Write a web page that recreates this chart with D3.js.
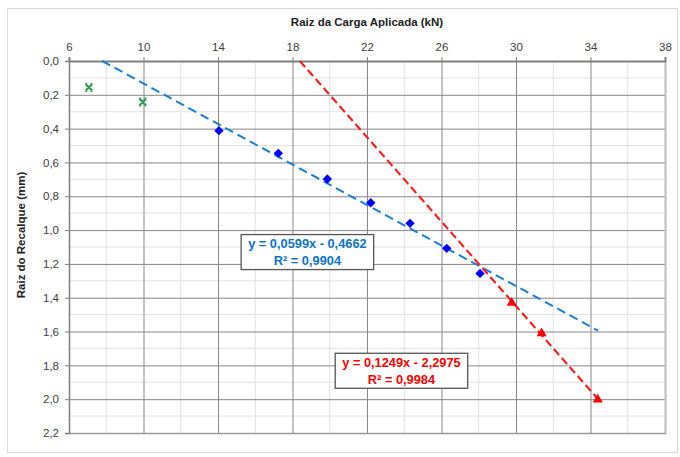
<!DOCTYPE html>
<html>
<head>
<meta charset="utf-8">
<script src="https://cdn.jsdelivr.net/npm/d3@7.9.0/dist/d3.min.js"></script>
<style>
  body { margin: 0; background: #fff; }
  svg { display: block; font-family: "Liberation Sans", Arial, sans-serif; }
</style>
</head>
<body>
<div id="chart"></div>
<script>
// Data
const xTicks = [6, 10, 14, 18, 22, 26, 30, 34, 38];
const yTicks = [0, 0.2, 0.4, 0.6, 0.8, 1.0, 1.2, 1.4, 1.6, 1.8, 2.0, 2.2];

const greenX = [7.07, 9.96];
const greenY = [0.156, 0.243];

const blueX = [14.05, 17.24, 19.87, 22.2, 24.31, 26.28, 28.07];
const blueY = [0.412, 0.546, 0.698, 0.838, 0.960, 1.108, 1.256];

const redX = [29.77, 31.38, 34.39];
const redY = [1.430, 1.611, 2.002];

// Trendlines: slope, intercept, last x, label lines, label centre (data units)
const trends = [
  { slope: 0.0599, intercept: -0.4662, xEnd: 34.4, color: '#1a7fd4', text: '#0b74c8',
    lines: ['y = 0,0599x - 0,4662', 'R² = 0,9904'], at: [18.8, 1.13], dash: '9,5' },
  { slope: 0.1249, intercept: -2.2975, xEnd: 34.4, color: '#ff1a1a', text: '#ff0000',
    lines: ['y = 0,1249x - 2,2975', 'R² = 0,9984'], at: [23.85, 1.832], dash: '8,4' }
];

const width = 680;
const height = 457;
const plot = { left: 69, right: 665, top: 61, bottom: 433 };

const svg = d3.select('#chart')
  .append('svg')
  .attr('width', width)
  .attr('height', height);

// chart area border
svg.append('rect')
  .attr('x', 7.5).attr('y', 8.5)
  .attr('width', 670).attr('height', 444)
  .attr('fill', 'none')
  .attr('stroke', '#d9d9d9');

const x = d3.scaleLinear().domain([6, 38]).range([plot.left, plot.right]);
const y = d3.scaleLinear().domain([0, 2.2]).range([plot.top, plot.bottom]);

// minor gridlines
const minorX = d3.range(8, 38, 4);
const minorY = d3.range(0.1, 2.2, 0.2);
svg.append('g')
  .selectAll('line')
  .data(minorX)
  .join('line')
  .attr('x1', d => x(d)).attr('x2', d => x(d))
  .attr('y1', plot.top).attr('y2', plot.bottom)
  .attr('stroke', '#e2e2e2');
svg.append('g')
  .selectAll('line')
  .data(minorY)
  .join('line')
  .attr('y1', d => y(d)).attr('y2', d => y(d))
  .attr('x1', plot.left).attr('x2', plot.right)
  .attr('stroke', '#e2e2e2');

// major gridlines
svg.append('g')
  .attr('transform', `translate(0,${plot.bottom})`)
  .call(d3.axisTop(x).tickValues(xTicks.slice(1, -1)).tickFormat('').tickSize(plot.bottom - plot.top))
  .call(g => g.select('.domain').remove())
  .call(g => g.selectAll('.tick line').attr('stroke', '#878787'));
svg.append('g')
  .attr('transform', `translate(${plot.right},0)`)
  .call(d3.axisLeft(y).tickValues(yTicks.slice(1, -1)).tickFormat('').tickSize(plot.right - plot.left))
  .call(g => g.select('.domain').remove())
  .call(g => g.selectAll('.tick line').attr('stroke', '#878787'));

// right and bottom edges
svg.append('line')
  .attr('x1', plot.right + 0.5).attr('x2', plot.right + 0.5)
  .attr('y1', plot.top).attr('y2', plot.bottom + 1)
  .attr('stroke', '#bdbdbd').attr('stroke-width', 2);
svg.append('line')
  .attr('x1', plot.left).attr('x2', plot.right + 1)
  .attr('y1', plot.bottom + 0.5).attr('y2', plot.bottom + 0.5)
  .attr('stroke', '#9a9a9a').attr('stroke-width', 1.5);

// axes
const fmt = d => d3.format('.1f')(d).replace('.', ',');
svg.append('g')
  .attr('transform', `translate(0,${plot.top})`)
  .call(d3.axisTop(x).tickValues(xTicks).tickSize(4).tickPadding(6))
  .call(g => g.select('.domain').attr('stroke', '#7f7f7f').attr('stroke-width', 2))
  .call(g => g.selectAll('.tick line').attr('stroke', '#7f7f7f'))
  .call(g => g.selectAll('.tick text').attr('fill', '#404040').attr('font-size', 11.5)
    .attr('font-family', '"Liberation Sans", Arial, sans-serif'));
svg.append('g')
  .attr('transform', `translate(${plot.left},0)`)
  .call(d3.axisLeft(y).tickValues(yTicks).tickFormat(fmt).tickSize(4).tickPadding(6))
  .call(g => g.select('.domain').attr('stroke', '#7f7f7f').attr('stroke-width', 1.5))
  .call(g => g.selectAll('.tick line').attr('stroke', '#7f7f7f'))
  .call(g => g.selectAll('.tick text').attr('fill', '#404040').attr('font-size', 11.5)
    .attr('font-family', '"Liberation Sans", Arial, sans-serif'));

// axis titles
svg.append('text')
  .attr('x', (plot.left + plot.right) / 2)
  .attr('y', 26)
  .attr('text-anchor', 'middle')
  .attr('font-size', 11.5)
  .attr('font-weight', 'bold')
  .attr('fill', '#222')
  .text('Raiz da Carga Aplicada (kN)');
svg.append('text')
  .attr('transform', `translate(25,${(plot.top + plot.bottom) / 2 - 12}) rotate(-90)`)
  .attr('text-anchor', 'middle')
  .attr('font-size', 11.5)
  .attr('font-weight', 'bold')
  .attr('fill', '#222')
  .text('Raiz do Recalque (mm)');

// trendlines
const line = d3.line().x(d => x(d[0])).y(d => y(d[1]));
trends.forEach(t => {
  const x0 = -t.intercept / t.slope;
  const pts = [[x0, 0], [t.xEnd, t.slope * t.xEnd + t.intercept]];
  svg.append('path')
    .attr('d', line(pts))
    .attr('fill', 'none')
    .attr('stroke', t.color)
    .attr('stroke-width', 2)
    .attr('stroke-dasharray', t.dash);
});

// markers
svg.append('g')
  .selectAll('path')
  .data(greenX.map((d, i) => [d, greenY[i]]))
  .join('path')
  .attr('transform', d => `translate(${x(d[0])},${y(d[1])})`)
  .attr('d', 'M-3.2,-3.2L3.2,3.2M3.2,-3.2L-3.2,3.2M-3.6,-3.4H-1.6M1.6,-3.4H3.6M-3.6,3.4H-1.6M1.6,3.4H3.6')
  .attr('fill', 'none')
  .attr('stroke', '#2f9a55')
  .attr('stroke-width', 2.2);

svg.append('g')
  .selectAll('path')
  .data(blueX.map((d, i) => [d, blueY[i]]))
  .join('path')
  .attr('transform', d => `translate(${x(d[0])},${y(d[1])})`)
  .attr('d', d3.symbol(d3.symbolDiamond2, 56))
  .attr('fill', '#0000ff');

svg.append('g')
  .selectAll('path')
  .data(redX.map((d, i) => [d, redY[i]]))
  .join('path')
  .attr('transform', d => `translate(${x(d[0])},${y(d[1])})`)
  .attr('d', d3.symbol(d3.symbolTriangle, 44))
  .attr('fill', '#ff0000');

// trendline labels
trends.forEach(t => {
  const cx = x(t.at[0]);
  const cy = y(t.at[1]);
  const g = svg.append('g');
  const texts = g.selectAll('text')
    .data(t.lines)
    .join('text')
    .attr('x', cx)
    .attr('y', (d, i) => cy - 4 + i * 17)
    .attr('text-anchor', 'middle')
    .attr('font-size', 12.8)
    .attr('font-weight', 'bold')
    .attr('fill', t.text)
    .text(d => d);
  const w = d3.max(texts.nodes(), n => n.getComputedTextLength()) + 14;
  g.insert('rect', 'text')
    .attr('x', cx - w / 2)
    .attr('y', cy - 17.5)
    .attr('width', w)
    .attr('height', 35)
    .attr('fill', '#fff')
    .attr('stroke', '#555')
    .attr('stroke-width', 1.3);
});
</script>
</body>
</html>
